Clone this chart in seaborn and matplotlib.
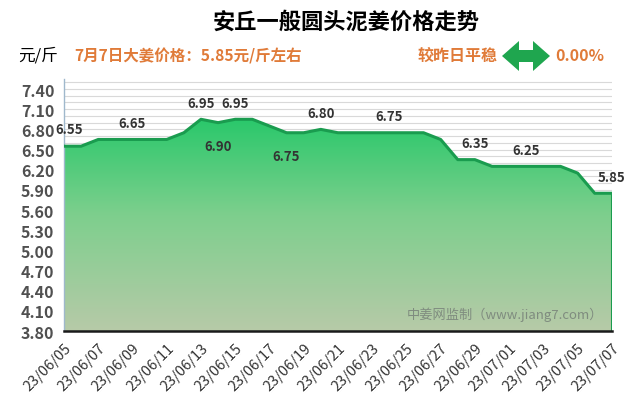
import numpy as np
import pandas as pd
import matplotlib
matplotlib.use("Agg")
import matplotlib.pyplot as plt
import seaborn as sns
from matplotlib.colors import LinearSegmentedColormap
from matplotlib.patches import Polygon
from matplotlib.ticker import MultipleLocator

# ---- data ----
dates = pd.date_range("2023-06-05", "2023-07-07", freq="D")
date_labels = [d.strftime("%y/%m/%d") for d in dates]
prices = [6.55, 6.55, 6.65, 6.65, 6.65, 6.65, 6.65, 6.75, 6.95, 6.90,
          6.95, 6.95, 6.85, 6.75, 6.75, 6.80, 6.75, 6.75, 6.75, 6.75,
          6.75, 6.75, 6.65, 6.35, 6.35, 6.25, 6.25, 6.25, 6.25, 6.25,
          6.15, 5.85, 5.85]
# labelled points: (index, text, position)
label_idx = [0, 4, 8, 9, 10, 13, 15, 19, 24, 27, 32]
label_pos = ["above", "above", "above", "below", "above", "below", "above",
             "above", "above", "above", "above"]
y_ticks = [3.80, 4.10, 4.40, 4.70, 5.00, 5.30, 5.60, 5.90, 6.20, 6.50,
           6.80, 7.10, 7.40]

title = "安丘一般圆头泥姜价格走势"
unit = "元/斤"
subtitle = "7月7日大姜价格：5.85元/斤左右"
change_text = "较昨日平稳"
change_pct = "0.00%"
watermark = "中姜网监制（www.jiang7.com）"

df = pd.DataFrame({"x": np.arange(len(prices)), "price": prices})

sns.set_theme(style="white")
plt.rcParams["font.family"] = ["Noto Sans CJK SC", "DejaVu Sans"]

fig = plt.figure(figsize=(6.4, 4.1), dpi=100)
ax = fig.add_axes([0.1, 0.19, 0.856, 0.615])

ymin, ymax = 3.80, 7.55
ax.set_xlim(0, len(prices) - 1)
ax.set_ylim(ymin, ymax)

# gridlines every 0.1
ax.yaxis.set_minor_locator(MultipleLocator(0.1))
ax.grid(True, which="minor", axis="y", color="#d9d9d9", linewidth=0.8)
ax.grid(True, which="major", axis="y", color="#d9d9d9", linewidth=0.8)
ax.grid(False, axis="x")
ax.set_axisbelow(True)

# gradient fill
cmap = LinearSegmentedColormap.from_list(
    "g", [(0.0, "#b7caa8"), (0.55, "#7dcf8d"), (1.0, "#2ac86b")])
grad = np.linspace(0, 1, 256).reshape(-1, 1)
top = max(prices)
im = ax.imshow(grad, cmap=cmap, aspect="auto", origin="lower",
               extent=[0, len(prices) - 1, ymin, top], zorder=1)
poly = ax.fill_between(df["x"], df["price"], ymin, color="none", zorder=1)
path = poly.get_paths()[0]
im.set_clip_path(path, transform=ax.transData)

sns.lineplot(data=df, x="x", y="price", ax=ax, color="#1a9c4f",
             linewidth=2.2, zorder=3)
ax.plot([len(prices) - 1, len(prices) - 1], [ymin, prices[-1]],
        color="#1a9c4f", linewidth=2.2, zorder=3)

for i, pos in zip(label_idx, label_pos):
    dy = 7 if pos == "above" else -12
    va = "bottom" if pos == "above" else "top"
    dx = 4 if i == 0 else 0
    ax.annotate(f"{prices[i]:.2f}", (i, prices[i]), xytext=(dx, dy),
                textcoords="offset points", ha="center", va=va,
                fontsize=9.5, fontweight="bold", color="#333333", zorder=5)

# axes styling
ax.set_xlabel("")
ax.set_ylabel("")
ax.set_yticks(y_ticks)
ax.set_yticklabels([f"{v:.2f}" for v in y_ticks], fontsize=11.5,
                   fontweight="bold", color="#505050")
ax.set_xticks(df["x"][::2])
ax.set_xticklabels(date_labels[::2], rotation=45, ha="right",
                   rotation_mode="anchor", fontsize=10.5, color="#333333")
ax.set_xticks(df["x"], minor=True)
ax.tick_params(axis="x", which="major", direction="inout", length=8,
               width=1.2, color="black", pad=3)
ax.tick_params(axis="x", which="minor", direction="in", length=4,
               width=1.0, color="black")
ax.tick_params(axis="y", which="both", length=0, pad=7)
for s in ["top", "right"]:
    ax.spines[s].set_visible(False)
ax.spines["left"].set_color("#9fb8cc")
ax.spines["left"].set_linewidth(1.0)
ax.spines["bottom"].set_color("#1a1a1a")
ax.spines["bottom"].set_linewidth(1.8)
ax.spines["bottom"].set_zorder(4)

ax.text(0.985, 0.07, watermark, transform=ax.transAxes, ha="right",
        va="center", fontsize=9.5, color="#7f8c7f", zorder=6)

# header texts
orange = "#e07b39"
fig.text(346 / 640, 1 - 22 / 410, title, ha="center", va="center",
         fontsize=16, fontweight="bold", color="black")
fig.text(18 / 640, 1 - 56 / 410, unit, ha="left", va="center",
         fontsize=12, color="black")
fig.text(74 / 640, 1 - 56 / 410, subtitle, ha="left", va="center",
         fontsize=11.2, fontweight="bold", color=orange)
fig.text(418 / 640, 1 - 56 / 410, change_text, ha="left", va="center",
         fontsize=11.5, fontweight="bold", color=orange)
fig.text(555 / 640, 1 - 56 / 410, change_pct, ha="left", va="center",
         fontsize=11.5, fontweight="bold", color=orange)

# double-headed arrow
ax_px = [(502, 57), (519, 42), (519, 51), (533, 51), (533, 42), (550, 57),
         (533, 72), (533, 63), (519, 63), (519, 72)]
arrow = Polygon([(x / 640, 1 - y / 410) for x, y in ax_px], closed=True,
                transform=fig.transFigure, facecolor="#1fa64f",
                edgecolor="none")
fig.patches.append(arrow)

fig.savefig("out.png", dpi=100, facecolor="white")
